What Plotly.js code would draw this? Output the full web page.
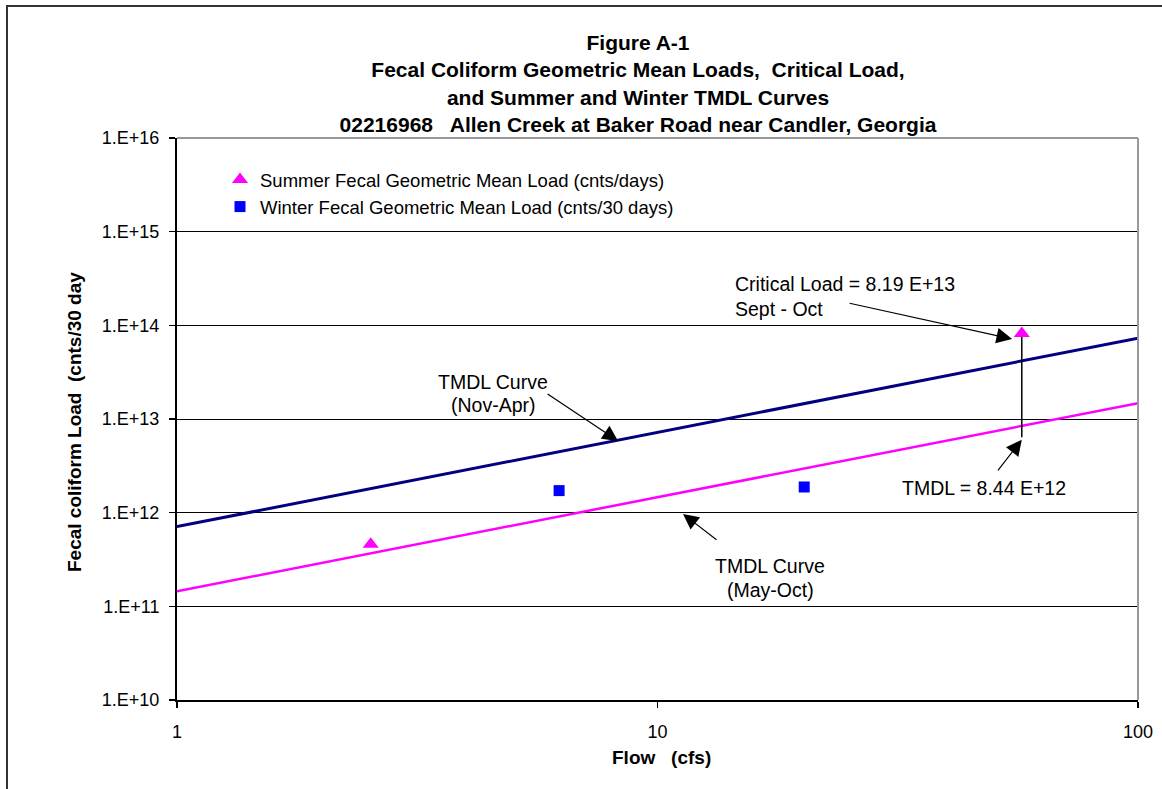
<!DOCTYPE html>
<html>
<head>
<meta charset="utf-8">
<script src="https://cdn.plot.ly/plotly-3.0.1.min.js"></script>
<style>
  html, body { margin: 0; padding: 0; background: #fff; }
  #frame { position: absolute; left: 6px; top: 5px; width: 1156px; height: 784px;
           border-left: 2px solid #333; border-top: 2px solid #333; pointer-events: none; }
  #chart { position: absolute; left: 0; top: 0; width: 1162px; height: 789px; }
</style>
</head>
<body>
<div id="chart"></div>
<div id="frame"></div>
<script>
// Flow (cfs) and fecal coliform loads
const tmdlFlow = [1, 100];
const winterTmdl = [7.1e11, 7.3e13];     // TMDL curve, Nov-Apr
const summerTmdl = [1.45e11, 1.475e13];  // TMDL curve, May-Oct

const summerFlow = [2.53, 57.3];
const summerLoad = [4.6e11, 8.19e13];    // summer geometric mean loads
const winterFlow = [6.24, 20.2];
const winterLoad = [1.72e12, 1.88e12];   // winter geometric mean loads

const criticalFlow = 57.3;
const criticalLoad = 8.19e13;
const tmdlValue = 8.44e12;
const criticalDrop = [criticalLoad, 6.4e12];

const yTicks = [1e10, 1e11, 1e12, 1e13, 1e14, 1e15, 1e16];
const yTickText = ['1.E+10', '1.E+11', '1.E+12', '1.E+13', '1.E+14', '1.E+15', '1.E+16'];
const xTicks = [1, 10, 100];
const xTickText = ['1', '10', '100'];

// plot area in pixels, used to place free text
const PL = 177, PT = 138, PW = 961, PH = 562;
const px = x => (x - PL) / PW;
const py = y => (PT + PH - y) / PH;
const lg = Math.log10;

const FONT = 'Liberation Sans, Arial, sans-serif';
const fmtE = v => {
  const [m, e] = v.toExponential(2).split('e');
  return m + ' E' + (e[0] === '-' ? e : '+' + e.replace('+', ''));
};

const traces = [
  { x: tmdlFlow, y: winterTmdl, mode: 'lines', showlegend: false, hoverinfo: 'skip',
    line: { color: '#000080', width: 3 } },
  { x: tmdlFlow, y: summerTmdl, mode: 'lines', showlegend: false, hoverinfo: 'skip',
    line: { color: '#FF00FF', width: 2.5 } },
  { x: [criticalFlow, criticalFlow], y: criticalDrop, mode: 'lines', showlegend: false,
    hoverinfo: 'skip', line: { color: '#000', width: 1.5 } },
  { x: summerFlow, y: summerLoad, mode: 'markers', name: 'Summer Fecal Geometric Mean Load (cnts/days)',
    marker: { symbol: 'triangle-up', size: 14, color: '#FF00FF' } },
  { x: winterFlow, y: winterLoad, mode: 'markers', name: 'Winter Fecal Geometric Mean Load (cnts/30 days)',
    marker: { symbol: 'square', size: 11, color: '#0000FF' } }
];

const txt = (text, x, y, xanchor) => ({
  text, xref: 'paper', yref: 'paper', x: px(x), y: py(y), xanchor: xanchor || 'center',
  yanchor: 'middle', showarrow: false, font: { family: FONT, size: 19.5, color: '#000' }
});
const arrow = (x, y, ax, ay) => ({
  text: '', xref: 'x', yref: 'y', x: lg(x), y: lg(y), ax, ay, axref: 'pixel', ayref: 'pixel',
  showarrow: true, arrowhead: 2, arrowsize: 2.6, arrowwidth: 1.2, arrowcolor: '#000', standoff: 0
});

const annotations = [
  txt('Critical Load = ' + fmtE(criticalLoad), 733, 284, 'left'),
  txt('Sept - Oct', 733, 309, 'left'),
  txt('TMDL Curve', 493, 382),
  txt('(Nov-Apr)', 493, 405),
  txt('TMDL Curve', 770, 566),
  txt('(May-Oct)', 770, 590),
  txt('TMDL = ' + fmtE(tmdlValue), 900, 488, 'left'),
  arrow(54.7, 7.16e13, -164, -36),
  arrow(8.28, 5.83e12, -72, -48),
  arrow(11.3, 9.7e11, 35, 27),
  arrow(criticalFlow, 6.0e12, -25, 32),
  { text: '<b>Fecal coliform Load\u00a0 (cnts/30 day</b>', xref: 'paper', yref: 'paper',
    x: px(75), y: py(422), xanchor: 'center', yanchor: 'middle', textangle: -90, showarrow: false,
    font: { family: FONT, size: 19, color: '#000' } },
  { text: '<b>Flow\u00a0\u00a0 (cfs)</b>', xref: 'paper', yref: 'paper',
    x: px(661), y: py(757), xanchor: 'center', yanchor: 'middle', showarrow: false,
    font: { family: FONT, size: 19, color: '#000' } }
];

const layout = {
  width: 1162, height: 789,
  margin: { l: PL, r: 1162 - PL - PW, t: PT, b: 789 - PT - PH },
  paper_bgcolor: '#fff', plot_bgcolor: '#fff',
  font: { family: FONT, size: 18, color: '#000' },
  title: {
    text: '<b>Figure A-1<br>Fecal Coliform Geometric Mean Loads,\u00a0 Critical Load,<br>' +
          'and Summer and Winter TMDL Curves<br>02216968\u00a0\u00a0 Allen Creek at Baker Road near Candler, Georgia</b>',
    x: 638 / 1162, xanchor: 'center', y: 1 - 50 / 789, yanchor: 'middle',
    font: { family: FONT, size: 21, color: '#000' }
  },
  showlegend: true,
  legend: {
    x: px(220), y: py(161), xanchor: 'left', yanchor: 'top',
    bgcolor: 'rgba(0,0,0,0)', borderwidth: 0,
    font: { family: FONT, size: 18.5, color: '#000' }, itemwidth: 30
  },
  xaxis: {
    type: 'log', range: [0, 2], tickvals: xTicks, ticktext: xTickText,
    showgrid: false, zeroline: false, showline: true, linecolor: '#000', linewidth: 2,
    ticks: 'outside', ticklen: 6, tickcolor: '#000', tickwidth: 1.5, ticklabelstandoff: 8,
    tickfont: { family: FONT, size: 18, color: '#000' }
  },
  yaxis: {
    type: 'log', range: [10, 16], tickvals: yTicks, ticktext: yTickText,
    showgrid: true, gridcolor: '#000', gridwidth: 1, zeroline: false,
    showline: true, linecolor: '#000', linewidth: 2,
    ticks: 'outside', ticklen: 6, tickcolor: '#000', tickwidth: 1.5, ticklabelstandoff: 6,
    tickfont: { family: FONT, size: 18, color: '#000' }
  },
  shapes: [
    { type: 'line', xref: 'paper', yref: 'paper', x0: 0, x1: 1, y0: 1, y1: 1,
      line: { color: '#999', width: 2 }, layer: 'above' },
    { type: 'line', xref: 'paper', yref: 'paper', x0: 1, x1: 1, y0: 0, y1: 1,
      line: { color: '#999', width: 2 }, layer: 'above' }
  ],
  annotations
};

Plotly.newPlot('chart', traces, layout, { staticPlot: true, displayModeBar: false });
</script>
</body>
</html>
